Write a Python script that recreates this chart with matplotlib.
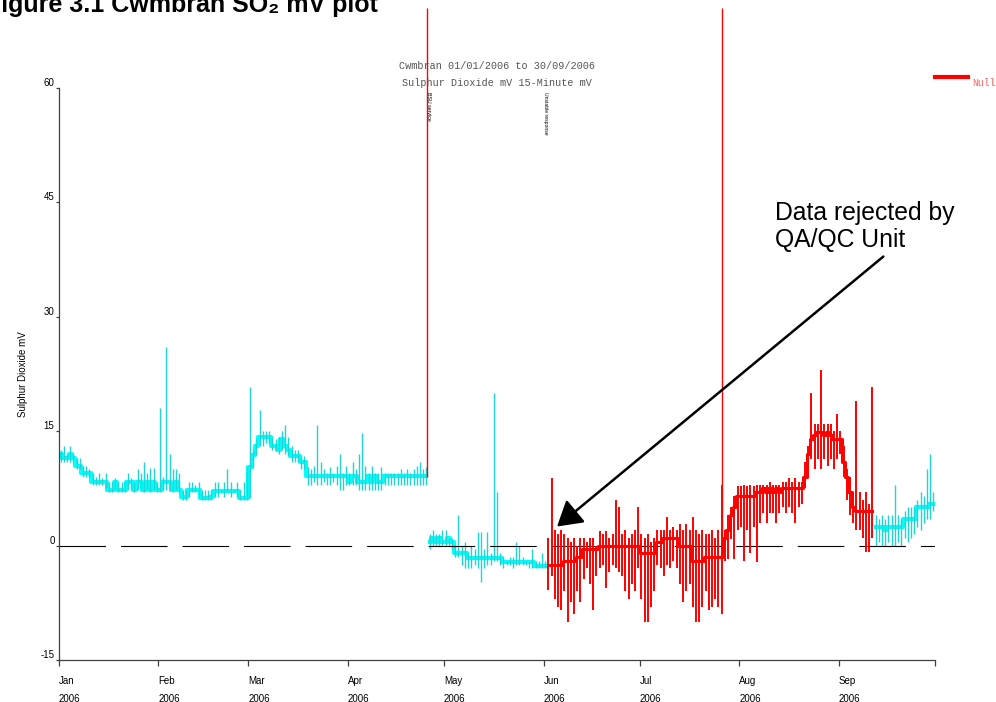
import numpy as np
import matplotlib
matplotlib.use("Agg")
import matplotlib.pyplot as plt
from matplotlib.lines import Line2D

# month starts as day-of-year (2006), last one = 1 Oct
month_starts = [0, 31, 59, 90, 120, 151, 181, 212, 243, 273]
month_labels = ["Jan", "Feb", "Mar", "Apr", "May", "Jun", "Jul", "Aug", "Sep", ""]
y_ticks = [-15, 0, 15, 30, 45, 60]

# cyan (accepted) data, 1 Jan - 25 Apr, one value per day
cyan1_start = 0
cyan1_base = [12, 11.5, 11.5, 12, 11.5, 10.5, 10.5, 9.5, 9.5, 9.5,
              8.4, 8.4, 8.4, 8.4, 8.4, 7.3, 7.3, 8.4, 7.3, 7.3,
              7.3, 8.4, 8.4, 7.3, 8.4, 8.4, 7.3, 8.4, 7.3, 8.4,
              7.3, 7.3, 8.4, 8.4, 8.4, 7.3, 8.4, 7.3, 6.4, 6.4,
              7.3, 7.3, 7.3, 7.3, 6.2, 6.2, 6.2, 6.4, 7.1, 7.1,
              7.1, 7.1, 7.1, 7.1, 7.1, 7.1, 6.2, 6.2, 6.2, 10.3,
              11.9, 13, 14.3, 14.3, 14.3, 14.3, 13, 13, 12.5, 14,
              13, 12.5, 11.7, 11.7, 11.7, 10.9, 10.9, 9.1, 9.1, 9.1,
              9.1, 9.1, 9.1, 9.1, 9.1, 9.1, 9.1, 9.1, 9.1, 9.1,
              8.4, 9.1, 9.1, 8.4, 8.4, 8.4, 9.1, 8.4, 9.1, 8.4,
              8.4, 9.1, 9.1, 9.1, 9.1, 9.1, 9.1, 9.1, 9.1, 9.1,
              9.1, 9.1, 9.1, 9.1, 9.1]
cyan1_high = [12.5, 13, 12, 13, 12, 11.5, 11.5, 10.5, 10.5, 10,
              9.5, 9, 9.5, 8.8, 9.5, 8.4, 8.4, 8.8, 8.4, 8.4,
              8.4, 9.5, 8.8, 8.4, 10, 9.5, 11, 9.5, 10.2, 10.2,
              8.4, 18, 9, 26, 12, 10, 10, 9.5, 7.3, 7.3,
              8.4, 8.4, 8, 8.4, 7.3, 7.3, 7.3, 7.3, 8.4, 8.4,
              7.3, 8.4, 10, 8.4, 7.3, 8.4, 7.3, 8.4, 10.3, 20.8,
              12.5, 14, 17.8, 15, 15, 15, 14.3, 14, 14.3, 15,
              15.8, 14.3, 13, 12.5, 12.5, 11.7, 11.7, 10.3, 10, 10.5,
              15.8, 11, 10, 9.5, 10.3, 9.5, 10.5, 12, 9.5, 10.5,
              9.5, 11, 10, 12, 14.8, 10.5, 9.5, 10.5, 9.5, 9.5,
              10.3, 9.5, 9.5, 9.5, 9.5, 9.5, 10, 9.5, 10, 9.5,
              10, 10.5, 11, 10, 10.3]
cyan1_low = [11, 11, 11, 11, 11, 10, 10, 9, 9, 9,
             8, 8, 8, 8, 7.5, 7, 7, 7.3, 7, 7,
             7, 7.3, 7.3, 7, 7.3, 7.3, 7, 7.3, 7, 7.3,
             7, 7, 7.3, 7.3, 7.3, 7, 7.3, 7, 6, 6,
             6.4, 7, 7, 6.4, 6, 6, 6, 6, 6.4, 6.4,
             7, 6.4, 7, 6.4, 7, 6.4, 6, 6, 6, 6.2,
             10.3, 11.9, 13, 13, 13.5, 13.5, 12.5, 12.5, 12, 12.5,
             12, 11.7, 11, 11, 11, 10, 10, 8, 8, 8.4,
             8, 8, 8.4, 8, 8, 8.4, 8, 7.3, 7.3, 8,
             8, 8, 8, 7.3, 7.3, 7.3, 7.3, 7.3, 7.3, 7.3,
             7.3, 8, 8, 8, 8, 8, 8, 8, 8, 8,
             8, 8, 8, 8, 8]

# cyan data, 26 Apr - 31 May
cyan2_start = 115
cyan2_base = [0.5, 1, 0.5, 1, 0.5, 0.5, 1, 0.5,
              -1, -1, -1, -1,
              -1.6, -1.6, -1.6, -1.6, -1.6, -1.6, -1.6, -1.6, -1.6, -1.6, -1.6,
              -2.1, -2.1, -2.1, -2.1, -2.1, -2.1, -2.1, -2.1, -2.1, -2.1,
              -2.7, -2.7, -2.7, -2.7]
cyan2_high = [1.5, 2, 1.5, 1.5, 2, 2, 1, 1, 0, 4,
              0, 0.5, -1, 0, -0.5, 1.8, 1.8, -0.5, 1.8, -1,
              20, 7, -1, -1.5, -2, -1.5, -1.5, 0.5, 0, -1.5,
              -2, -2, -0.5, -2, -2, -1, -2]
cyan2_low = [-0.5, 0, 0, 0, 0, 0, 0, -0.5, -1.5, -1.5,
             -2.5, -3, -3, -3, -2.5, -3, -4.8, -3, -2.5, -2.5,
             -2, -2, -2.5, -3, -2.5, -2.5, -3, -2.5, -2.5, -2.5,
             -2.5, -3, -3, -3, -3, -3, -3]

# red (rejected) data, 1 Jun - 10 Sep
red_start = 152
red_base = [-2.5, -2.5, -2.5, -2.5, -2.5, -2, -2, -2, -2, -1.5,
            -1.5, -0.5, -0.5, -0.5, -0.5, -0.5, 0, 0, 0, 0,
            0, 0, 0, 0, 0, 0, 0, 0, 0, -1,
            -1, -1, -1, -1, 0.5, 0.5, 1, 1, 1, 1,
            1, 0, 0, 0, 0, -2, -2, -2, -2, -1.5,
            -1.5, -1.5, -1.5, -1.5, -1.5, 1, 2, 4, 5, 6.5,
            6.5, 6.5, 6.5, 6.5, 6.5, 7, 7, 7.6, 7, 7.6,
            7, 7.6, 7, 7.6, 7.6, 7.6, 7.6, 7.6, 7.6, 7.6,
            9, 12, 14, 14.5, 14.9, 14.9, 14.5, 14.9, 14.5, 14,
            14, 14, 11, 9, 7, 5, 4.5, 4.5, 4.5, 4.5,
            4.5, 4.5]
red_high = [1, 8.9, 2, 1.5, 2, 1.5, 1, 0.5, 1, 0,
            1, 1, 0.5, 1, 1, 0, 1.9, 1.5, 1.9, 1,
            1.5, 6, 5, 1.5, 2, 1, 1.5, 2, 5, 1.5,
            1, 1.5, 0.5, 1, 2, 2, 2, 3.8, 2, 2.5,
            2, 2.8, 2, 2.8, 2, 3.8, 2, 1.5, 2, 1.5,
            1.5, 2, 1, 2, 8, 2, 4, 5, 6.5, 7.8,
            7.8, 8, 7.8, 8, 7.8, 8, 8, 8, 8, 8.4,
            8, 8, 8, 8.4, 8.4, 8.9, 8.4, 8.9, 8.4, 8.4,
            11, 13, 20, 16, 16, 23, 16, 16, 16, 15,
            17.3, 15, 13, 10, 9, 7, 19, 7, 6, 7,
            5.5, 20.8]
red_low = [-5.8, -4, -7, -8, -8.4, -6, -10, -7.4, -9, -6,
           -7.4, -4.4, -3, -5, -8.4, -4, -3, -2.6, -5.5, -3.4,
           -2.6, -3, -3.4, -4, -6, -7, -5, -6, -3, -7,
           -10, -10, -8, -6, -2.6, -3, -4, -2.6, -3, -2,
           -3, -5, -7.4, -6, -5, -8, -10, -10, -8, -6,
           -8.4, -8, -7, -8, -9, -2, -1.8, 0.8, -1.8, 2,
           2.5, -2, 2, -1, 2.5, -2.1, 3, 4.3, 3, 4.3,
           4.3, 3, 4.3, 5, 4.3, 5, 4.3, 3, 5, 5.5,
           7.6, 10, 11.3, 10, 11.3, 10, 11.3, 10.5, 11.3, 10,
           11.3, 12, 9, 6, 4, 3, 2.1, 2.1, 1, -0.9,
           -0.9, 1]

# cyan data, 11 Sep - 30 Sep
cyan3_start = 254
cyan3_base = [2.5, 2.5, 2.5, 2, 2.5, 2.5, 2.5, 2.5, 2.5, 3.5,
              3.5, 3.5, 3.5, 5, 5, 5, 5, 5.5, 5.5]
cyan3_high = [4, 3.5, 4, 3.5, 4, 4, 8, 4, 3.5, 4.5,
              5, 5, 5, 6, 7, 6.5, 10, 12, 7]
cyan3_low = [0, 0.5, 0, 0, 0.5, 0, 0, 0.5, 0, 1,
             0.5, 1, 1.5, 2.5, 2, 3, 3.5, 3.5, 4.5]

# two huge rejected spikes running off the top of the plot
red_spike_days = [114.7, 206.6]
red_spike_bottoms = [9, -1.5]
red_spike_top = 70.5

CYAN = "#00ffff"
CYAN_SPIKE = "#22d4d4"
RED = "#ff0000"

plt.rcParams["font.family"] = ["Liberation Sans", "DejaVu Sans"]
plt.rcParams["lines.scale_dashes"] = False


def draw_block(ax, start, base, low, high, band, spike, z, band_lw=3, spike_lw=1):
    days = np.arange(start, start + len(base)) + 0.5
    ax.step(days, base, where="mid", color=band, lw=band_lw, zorder=z)
    ax.vlines(days, low, high, color=spike, lw=spike_lw, zorder=z)


def main():
    fig = plt.figure(figsize=(9.96, 7.02), dpi=100)
    ax = fig.add_axes([59 / 996, 1 - 660 / 702, 876 / 996, 572 / 702])

    draw_block(ax, cyan1_start, cyan1_base, cyan1_low, cyan1_high, CYAN, CYAN_SPIKE, 2)
    draw_block(ax, cyan2_start, cyan2_base, cyan2_low, cyan2_high, CYAN, CYAN_SPIKE, 2)
    draw_block(ax, cyan3_start, cyan3_base, cyan3_low, cyan3_high, CYAN, CYAN_SPIKE, 2)
    draw_block(ax, red_start, red_base, red_low, red_high, RED, RED, 3,
               band_lw=2.2, spike_lw=1.4)
    ax.vlines(red_spike_days, red_spike_bottoms, red_spike_top, color=RED, lw=1,
              clip_on=False, zorder=3)

    ax.axhline(0, color="black", lw=0.8, linestyle=(0, (33.5, 10.8)), zorder=2.5)

    ax.set_xlim(0, 273)
    ax.set_ylim(-15, 60)
    for side in ["top", "right"]:
        ax.spines[side].set_visible(False)
    for side in ["left", "bottom"]:
        ax.spines[side].set_color("#404040")
        ax.spines[side].set_linewidth(0.9)

    ax.set_xticks(month_starts)
    ax.set_xticklabels([m + "\n2006" if m else "" for m in month_labels])
    ax.tick_params(axis="x", length=4.3, width=0.9, color="#404040", pad=7, labelsize=7)
    for lbl in ax.get_xticklabels():
        lbl.set_horizontalalignment("left")
        lbl.set_linespacing(2.0)

    ax.set_yticks(y_ticks)
    ax.set_yticklabels([str(v) for v in y_ticks])
    ax.tick_params(axis="y", length=2.2, width=0.9, color="#404040", pad=1, labelsize=7)
    for lbl in ax.get_yticklabels():
        lbl.set_verticalalignment("bottom")

    ax.set_ylabel("Sulphur Dioxide mV", fontsize=7, labelpad=9)

    ax.text(115.0, 59.5, "BSU service", rotation=270, fontsize=3.8, ha="center", va="top")
    ax.text(151.5, 59.5, "Unstable response", rotation=270, fontsize=3.6, ha="center", va="top")

    ax.annotate("", xy=(155.2, 2.5), xytext=(256.9, 37.9),
                arrowprops=dict(arrowstyle="-|>,head_length=0.75,head_width=0.45",
                                mutation_scale=20, lw=1.8, color="black",
                                shrinkA=0, shrinkB=0), zorder=5)
    fig.text(775 / 996, 1 - 201 / 702, "Data rejected by\nQA/QC Unit", fontsize=17.8,
             ha="left", va="top", linespacing=1.15)

    fig.text(-14 / 996, 1 - 12 / 702, "Figure 3.1 Cwmbran SO\u2082 mV plot", fontsize=18,
             fontweight="bold", ha="left", va="baseline")

    mono = ["Liberation Mono", "DejaVu Sans Mono"]
    fig.text(497 / 996, 1 - 66 / 702, "Cwmbran 01/01/2006 to 30/09/2006", family=mono,
             fontsize=7.3, color="#555555", ha="center", va="center")
    fig.text(497 / 996, 1 - 83 / 702, "Sulphur Dioxide mV 15-Minute mV", family=mono,
             fontsize=7.3, color="#555555", ha="center", va="center")

    fig.add_artist(Line2D([935 / 996, 968 / 996], [1 - 77 / 702, 1 - 77 / 702],
                          color=RED, lw=3))
    fig.text(972 / 996, 1 - 83 / 702, "Null", family=mono, fontsize=7,
             color="#ff6060", ha="left", va="center")

    fig.savefig("out.png", dpi=100)


if __name__ == "__main__":
    main()
